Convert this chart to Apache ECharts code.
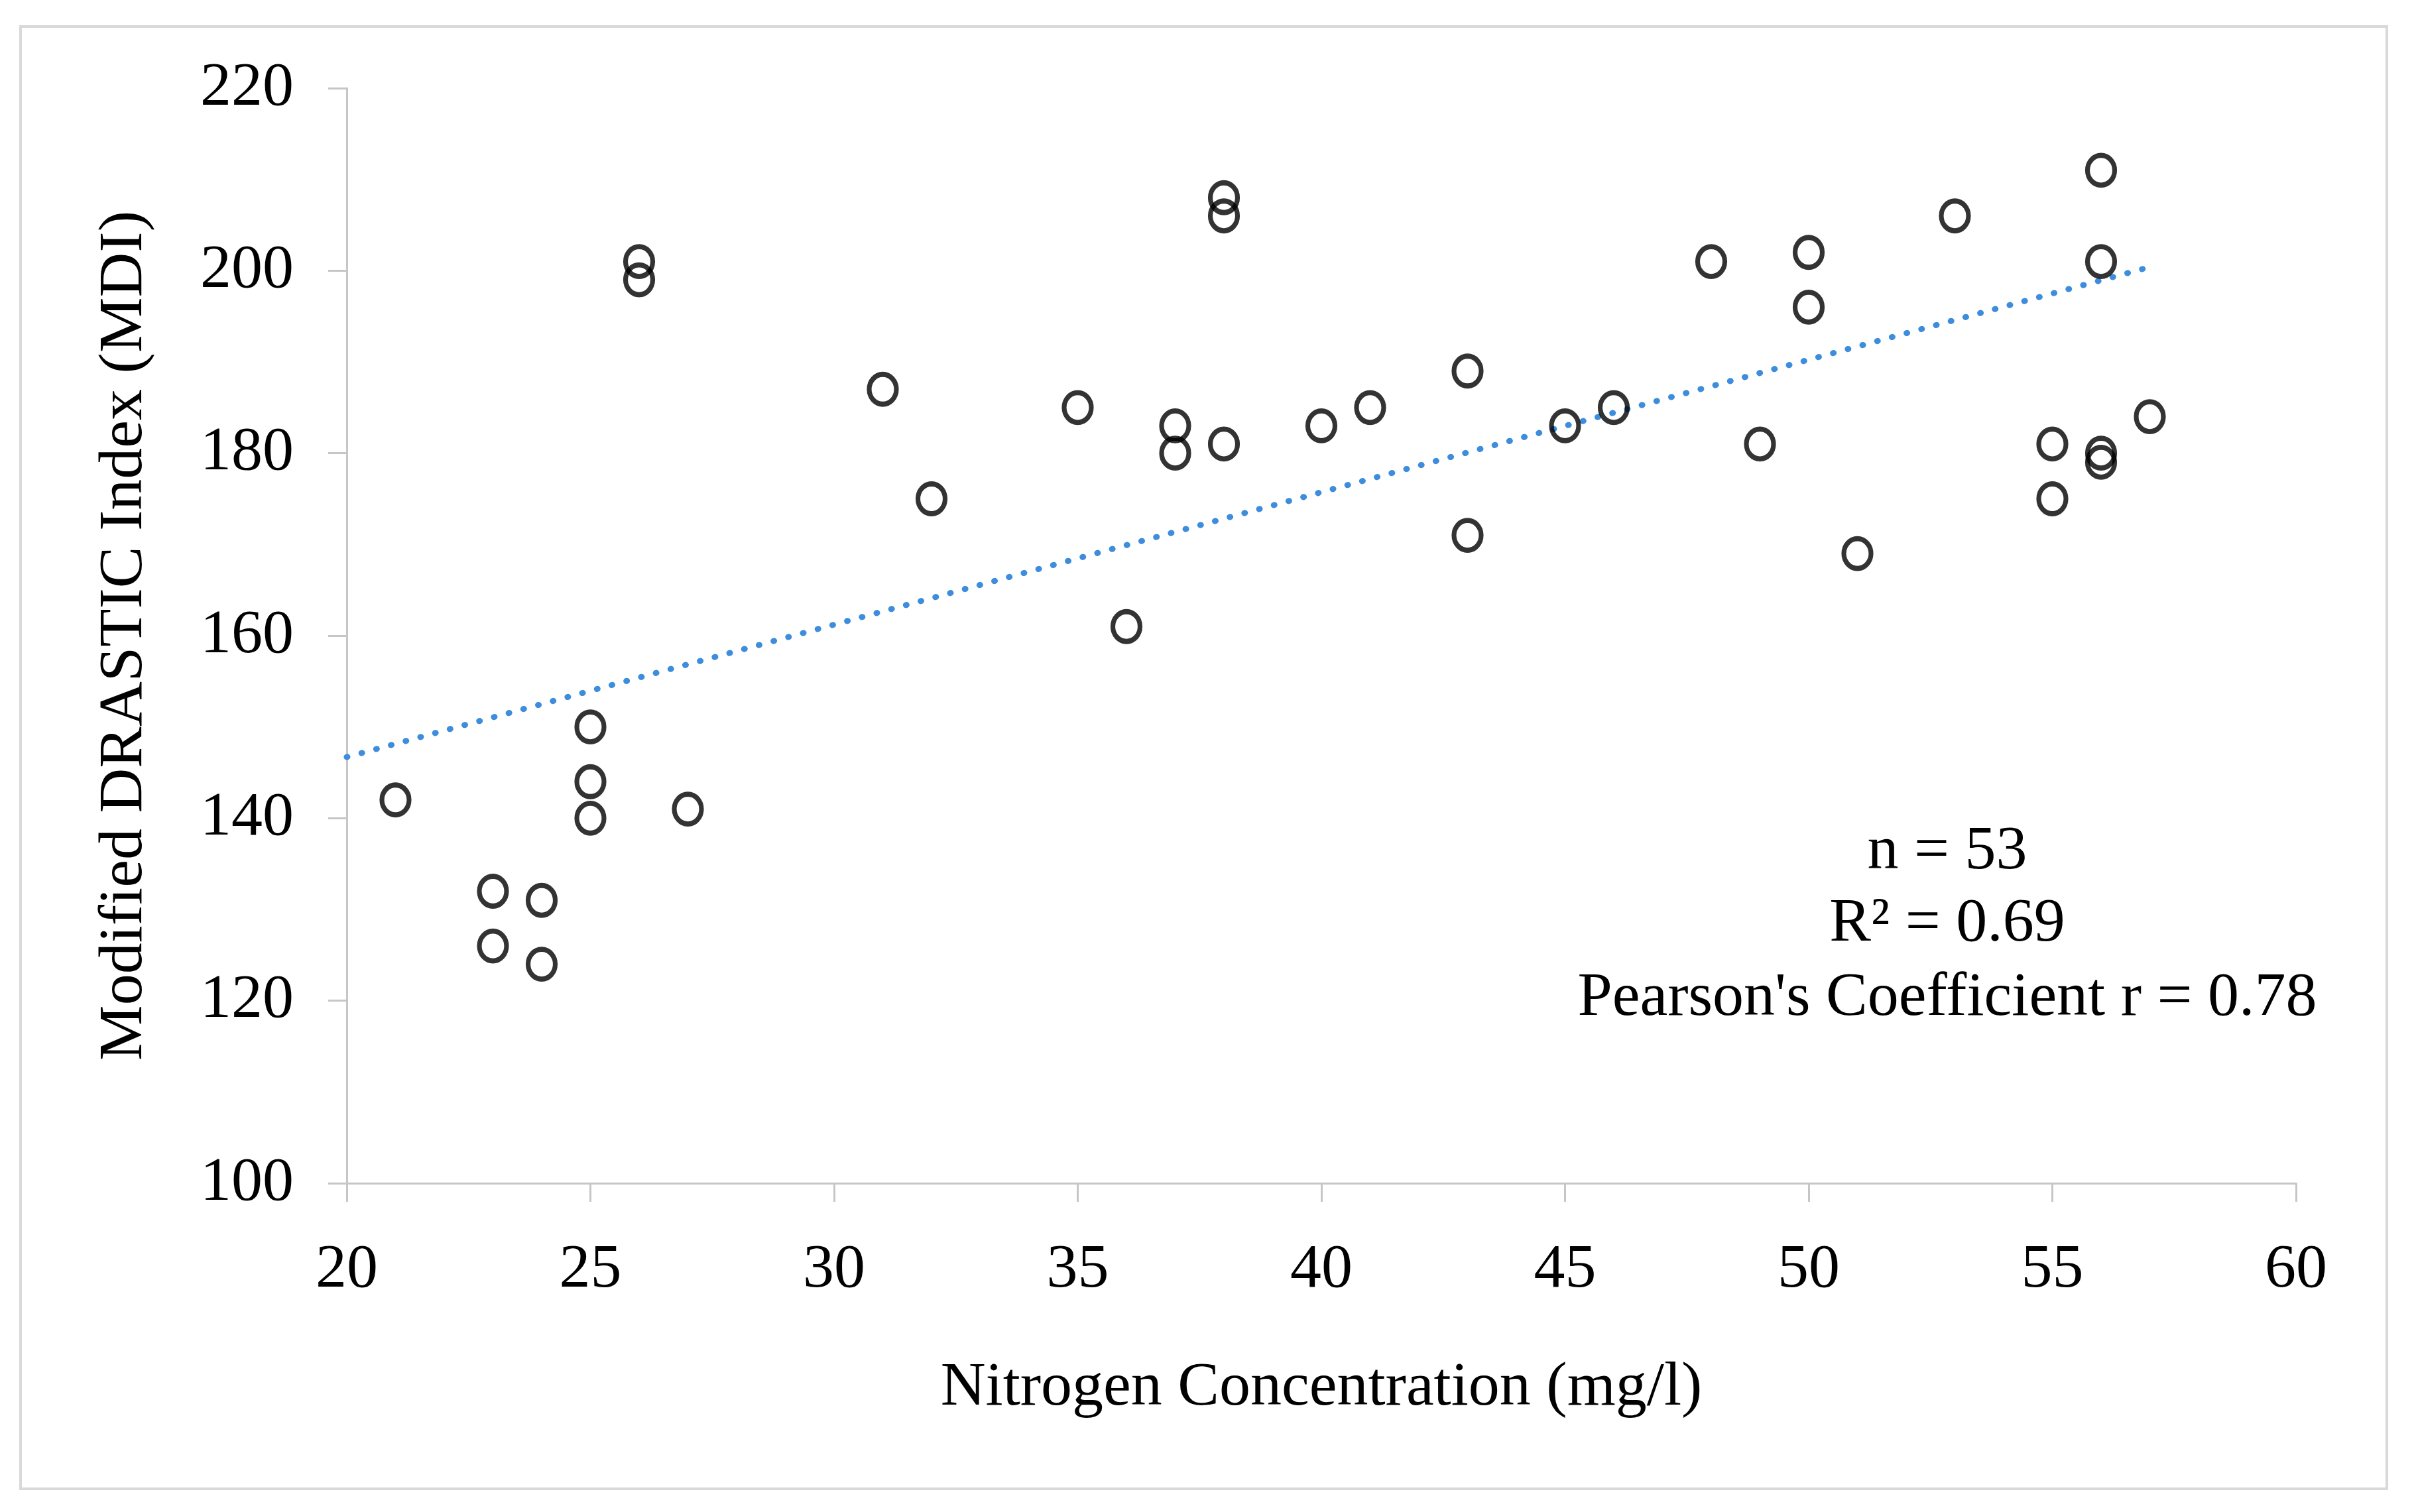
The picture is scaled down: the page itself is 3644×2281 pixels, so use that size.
<!DOCTYPE html>
<html>
<head>
<meta charset="utf-8">
<script src="https://cdn.jsdelivr.net/npm/echarts@6/dist/echarts.min.js"></script>
<style>
html,body{margin:0;padding:0;background:#fff;}
#chart{width:3644px;height:2281px;}
</style>
</head>
<body>
<div id="chart"></div>
<script>
// Nitrogen concentration (mg/l)
const nitrogen = [21, 23, 23, 24, 24, 25, 25, 25, 26, 26, 27, 31, 32, 35, 36, 37, 37, 38, 38, 38, 40, 41, 43, 43, 45, 46, 48, 49, 50, 50, 51, 53, 55, 55, 56, 56, 56, 56, 57];
// Modified DRASTIC Index (MDI)
const mdi = [142, 132, 126, 131, 124, 150, 144, 140, 201, 199, 141, 187, 175, 185, 161, 183, 180, 208, 206, 181, 183, 185, 189, 171, 183, 185, 201, 181, 202, 196, 169, 206, 181, 175, 211, 201, 180, 179, 184];
// Linear trend line end points
const trendX = [20, 57];
const trendY = [146.7, 200.4];
// Axis settings
const xTicks = [20, 25, 30, 35, 40, 45, 50, 55, 60];
const yTicks = [100, 120, 140, 160, 180, 200, 220];
const xTitle = 'Nitrogen Concentration (mg/l)';
const yTitle = 'Modified DRASTIC Index (MDI)';
const annotationLines = ['n = 53', 'R\u00B2 = 0.69', "Pearson's Coefficient r = 0.78"];

const FONT = "'Liberation Serif', 'Times New Roman', serif";

const scatterData = nitrogen.map((x, i) => [x, mdi[i]]);
const trendData = trendX.map((x, i) => [x, trendY[i]]);

const chart = echarts.init(document.getElementById('chart'), null, {renderer: 'canvas'});

const annTop = [1285, 1394, 1506];
const graphics = [
  {
    type: 'rect',
    shape: {x: 31, y: 40, width: 3569, height: 2206},
    style: {fill: 'none', stroke: '#d9d9d9', lineWidth: 4},
    silent: true,
    z: -1
  }
].concat(annotationLines.map((t, i) => ({
  type: 'text',
  x: 2937,
  y: annTop[i],
  style: {
    text: t,
    font: '94px ' + FONT,
    fill: '#000',
    align: 'center',
    verticalAlign: 'middle'
  }
})));

chart.setOption({
  backgroundColor: '#ffffff',
  animation: false,
  grid: {left: 523, right: 181, top: 133, bottom: 496, containLabel: false},
  xAxis: {
    type: 'value',
    min: xTicks[0],
    max: xTicks[xTicks.length - 1],
    interval: xTicks[1] - xTicks[0],
    name: xTitle,
    nameLocation: 'middle',
    nameGap: 262,
    nameTextStyle: {fontFamily: FONT, fontSize: 94, color: '#000'},
    axisLine: {show: true, onZero: false, lineStyle: {color: '#c6c6c6', width: 3}},
    axisTick: {show: true, inside: false, length: 28, lineStyle: {color: '#c6c6c6', width: 3}},
    axisLabel: {fontFamily: FONT, fontSize: 94, color: '#000', margin: 84},
    splitLine: {show: false}
  },
  yAxis: {
    type: 'value',
    min: yTicks[0],
    max: yTicks[yTicks.length - 1],
    interval: yTicks[1] - yTicks[0],
    name: yTitle,
    nameLocation: 'middle',
    nameGap: 288,
    nameRotate: 90,
    nameTextStyle: {fontFamily: FONT, fontSize: 94, color: '#000'},
    axisLine: {show: true, onZero: false, lineStyle: {color: '#c6c6c6', width: 3}},
    axisTick: {show: true, inside: false, length: 28, lineStyle: {color: '#c6c6c6', width: 3}},
    axisLabel: {fontFamily: FONT, fontSize: 94, color: '#000', margin: 80},
    splitLine: {show: false}
  },
  graphic: graphics,
  series: [
    {
      type: 'line',
      data: trendData,
      showSymbol: false,
      symbol: 'none',
      lineStyle: {color: '#3d8ddc', width: 9, type: [1, 22], cap: 'round'},
      z: 1,
      silent: true
    },
    {
      type: 'scatter',
      data: scatterData,
      symbol: 'circle',
      symbolSize: [41, 45],
      itemStyle: {color: 'rgba(255,255,255,0)', borderColor: '#000', borderWidth: 7.5},
      z: 2
    }
  ]
});
</script>
</body>
</html>
